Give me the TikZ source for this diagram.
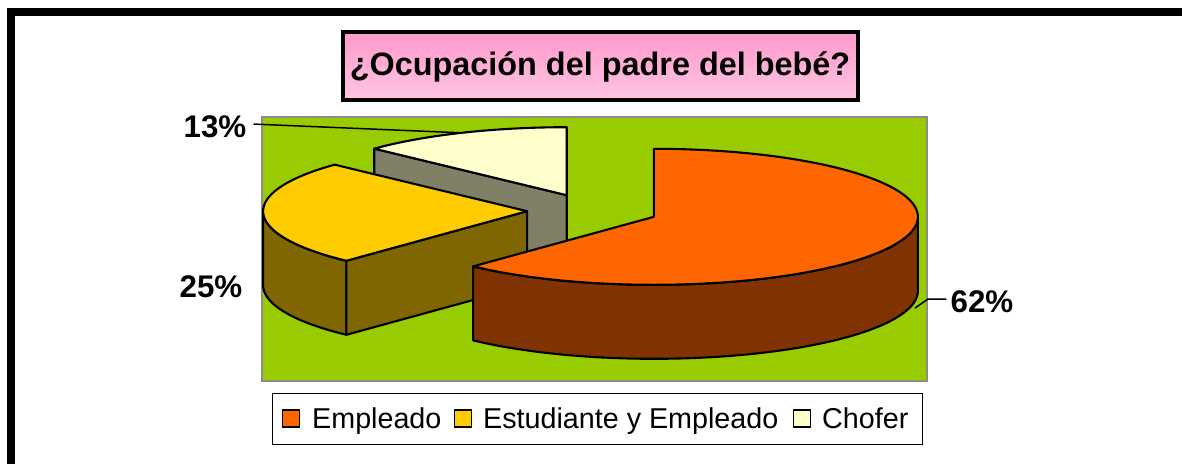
\documentclass[tikz,border=0pt]{standalone}
\usepackage{fontspec}
\setmainfont{Liberation Sans}
\definecolor{plotgreen}{HTML}{99CC00}
\definecolor{orangetop}{HTML}{FF6600}
\definecolor{orangeside}{HTML}{803300}
\definecolor{yeltop}{HTML}{FFCC00}
\definecolor{yelside}{HTML}{806600}
\definecolor{choftop}{HTML}{FFFFCC}
\definecolor{chofside}{HTML}{808066}
\definecolor{pinktop}{HTML}{FF99CC}
\definecolor{pinkbot}{HTML}{FFC4E2}
\definecolor{framegray}{HTML}{8C8C8C}
\begin{document}
\begin{tikzpicture}[x=1pt,y=-1pt,
  edge/.style={draw=black,line width=2.1pt,line join=round},
  lbl/.style={font=\bfseries\fontsize{31.3}{34}\selectfont,inner sep=0pt,anchor=base},
  legtxt/.style={font=\fontsize{28.7}{32}\selectfont,inner sep=0pt,anchor=base west},
  legsq/.style={draw=black,line width=1.3pt,minimum size=17pt,inner sep=0pt},
  leader/.style={draw=black,line width=1.5pt}]
\useasboundingbox (0,0) rectangle (1182,464);
\fill[white] (0,0) rectangle (1182,464);
% outer frame
\fill[black] (7,8) rectangle (1182,16);
\fill[black] (7,8) rectangle (15,464);
% title
\node[draw=black,line width=3.5pt,top color=pinktop,bottom color=pinkbot,
  minimum width=515pt,minimum height=68pt,inner sep=0pt] (titlebox) at (600.5,66) {};
\node[font=\bfseries\fontsize{32.4}{36}\selectfont,inner sep=0pt,anchor=base]
  (titletext) at (600,75) {¿Ocupación del padre del bebé?};
% plot area
\filldraw[fill=plotgreen,draw=framegray,line width=1.5pt] (262,117) rectangle (927,381);
% pie parameters
\def\rx{264}\def\ry{68}\def\dp{74}
\def\ox{653.9}\def\oy{216.8}
\def\yx{527.1}\def\yy{211.2}
\def\chx{566.7}\def\chy{195.2}
% Chofer slice (back)
\filldraw[edge,fill=chofside] (\chx,\chy)
  -- ({\chx+\rx*cos(136.8)},{\chy-\ry*sin(136.8)})
  -- ({\chx+\rx*cos(136.8)},{\chy-\ry*sin(136.8)+\dp})
  -- (\chx,{\chy+\dp}) -- cycle;
\filldraw[edge,fill=choftop] (\chx,\chy)
  -- plot[domain=90:136.8,samples=40] ({\chx+\rx*cos(\x)},{\chy-\ry*sin(\x)}) -- cycle;
% Estudiante y Empleado slice
\filldraw[edge,fill=yelside]
  plot[domain=180:226.8,samples=40] ({\yx+\rx*cos(\x)},{\yy-\ry*sin(\x)})
  -- plot[domain=226.8:180,samples=40] ({\yx+\rx*cos(\x)},{\yy-\ry*sin(\x)+\dp}) -- cycle;
\filldraw[edge,fill=yelside] (\yx,\yy)
  -- ({\yx+\rx*cos(226.8)},{\yy-\ry*sin(226.8)})
  -- ({\yx+\rx*cos(226.8)},{\yy-\ry*sin(226.8)+\dp})
  -- (\yx,{\yy+\dp}) -- cycle;
\filldraw[edge,fill=yeltop] (\yx,\yy)
  -- plot[domain=136.8:226.8,samples=60] ({\yx+\rx*cos(\x)},{\yy-\ry*sin(\x)}) -- cycle;
% Empleado slice (front)
\filldraw[edge,fill=orangeside]
  plot[domain=-133.2:0,samples=80] ({\ox+\rx*cos(\x)},{\oy-\ry*sin(\x)})
  -- plot[domain=0:-133.2,samples=80] ({\ox+\rx*cos(\x)},{\oy-\ry*sin(\x)+\dp}) -- cycle;
\filldraw[edge,fill=orangetop] (\ox,\oy)
  -- plot[domain=90:-133.2,samples=120] ({\ox+\rx*cos(\x)},{\oy-\ry*sin(\x)}) -- cycle;
% data labels
\node[lbl] (l13) at (215,137) {13\%};
\node[lbl] (l25) at (211,297) {25\%};
\node[lbl] (l62) at (982,312) {62\%};
\coordinate (c13) at (461,132.8);
\coordinate (c62a) at (928,299);
\coordinate (c62b) at (915,308);
\draw[leader] ([xshift=7pt,yshift=2pt]l13.east) -- (c13);
\draw[leader] ([xshift=-4pt,yshift=2pt]l62.west) -- (c62a) -- (c62b);
% legend
\node[draw=black,line width=1.3pt,fill=white,minimum width=650pt,minimum height=51pt,
  inner sep=0pt,anchor=north west] (legend) at (272,393) {};
\node[legsq,fill=orangetop] (sq1) at (291,418.5) {};
\node[legtxt] (t1) at (312,428) {Empleado};
\node[legsq,fill=yeltop] (sq2) at (463,418.5) {};
\node[legtxt] (t2) at (483,428) {Estudiante y Empleado};
\node[legsq,fill=choftop] (sq3) at (802,418.5) {};
\node[legtxt] (t3) at (822,428) {Chofer};
\end{tikzpicture}
\end{document}
